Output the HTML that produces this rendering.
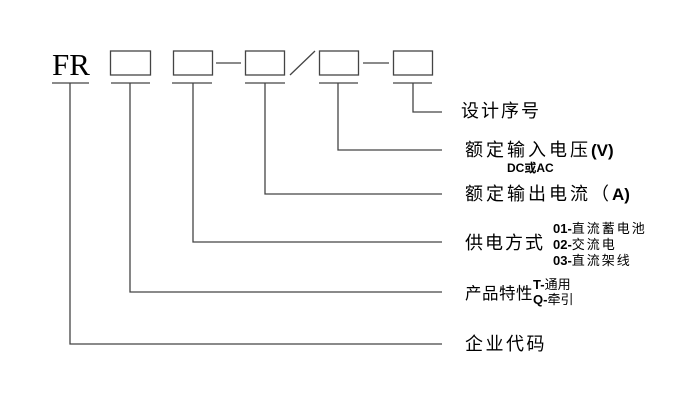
<!DOCTYPE html>
<html><head><meta charset="utf-8"><style>
body{margin:0;background:#fff}
svg text{font-family:"Liberation Sans","Noto Sans CJK SC",sans-serif;fill:#000}
</style></head><body>
<svg width="694" height="400" viewBox="0 0 694 400" xmlns="http://www.w3.org/2000/svg">
<g stroke="#444" stroke-width="1.3" fill="none">
<rect x="110.5" y="51" width="40" height="24"/>
<rect x="173.5" y="51" width="39" height="24"/>
<rect x="245.5" y="51" width="39" height="24"/>
<rect x="319.5" y="51" width="39" height="24"/>
<rect x="393.5" y="51" width="39" height="24"/>
<line x1="216" y1="63" x2="241" y2="63"/>
<line x1="290" y1="75" x2="315" y2="51"/>
<line x1="363" y1="63" x2="389" y2="63"/>
<line x1="52" y1="83" x2="89" y2="83"/>
<line x1="111" y1="83" x2="150" y2="83"/>
<line x1="172" y1="83" x2="212" y2="83"/>
<line x1="245" y1="83" x2="285" y2="83"/>
<line x1="319" y1="83" x2="358" y2="83"/>
<line x1="393" y1="83" x2="432" y2="83"/>
<polyline points="413,83 413,112 442,112"/>
<polyline points="338,83 338,150 442,150"/>
<polyline points="265,83 265,194 442,194"/>
<polyline points="193,83 193,242 442,242"/>
<polyline points="130,83 130,292 442,292"/>
<polyline points="70,83 70,344 442,344"/>
</g>
<text x="71" y="75" text-anchor="middle" style="font-family:'Liberation Serif',serif;font-size:31px">FR</text>
<text x="461" y="117" font-size="18" letter-spacing="2">设计序号</text>
<text x="465" y="156" font-size="18"><tspan letter-spacing="3">额定输入电压</tspan><tspan font-weight="bold" font-size="17">(V)</tspan></text>
<text x="507" y="172" font-size="12" font-weight="bold">DC或AC</text>
<text x="465" y="200" font-size="18"><tspan letter-spacing="3">额定输出电流（</tspan><tspan font-weight="bold" font-size="17">A)</tspan></text>
<text x="465" y="249" font-size="18" letter-spacing="2">供电方式</text>
<text x="553" y="233" font-size="13"><tspan font-weight="bold">01-</tspan><tspan letter-spacing="2">直流蓄电池</tspan></text>
<text x="553" y="249" font-size="13"><tspan font-weight="bold">02-</tspan><tspan letter-spacing="2">交流电</tspan></text>
<text x="553" y="265" font-size="13"><tspan font-weight="bold">03-</tspan><tspan letter-spacing="2">直流架线</tspan></text>
<text x="465" y="299" font-size="16.5" letter-spacing="0.5">产品特性</text>
<text x="533" y="289" font-size="13"><tspan font-weight="bold">T-</tspan>通用</text>
<text x="533" y="304" font-size="13"><tspan font-weight="bold">Q-</tspan>牵引</text>
<text x="465" y="350" font-size="18" letter-spacing="2.5">企业代码</text>
</svg>
</body></html>
